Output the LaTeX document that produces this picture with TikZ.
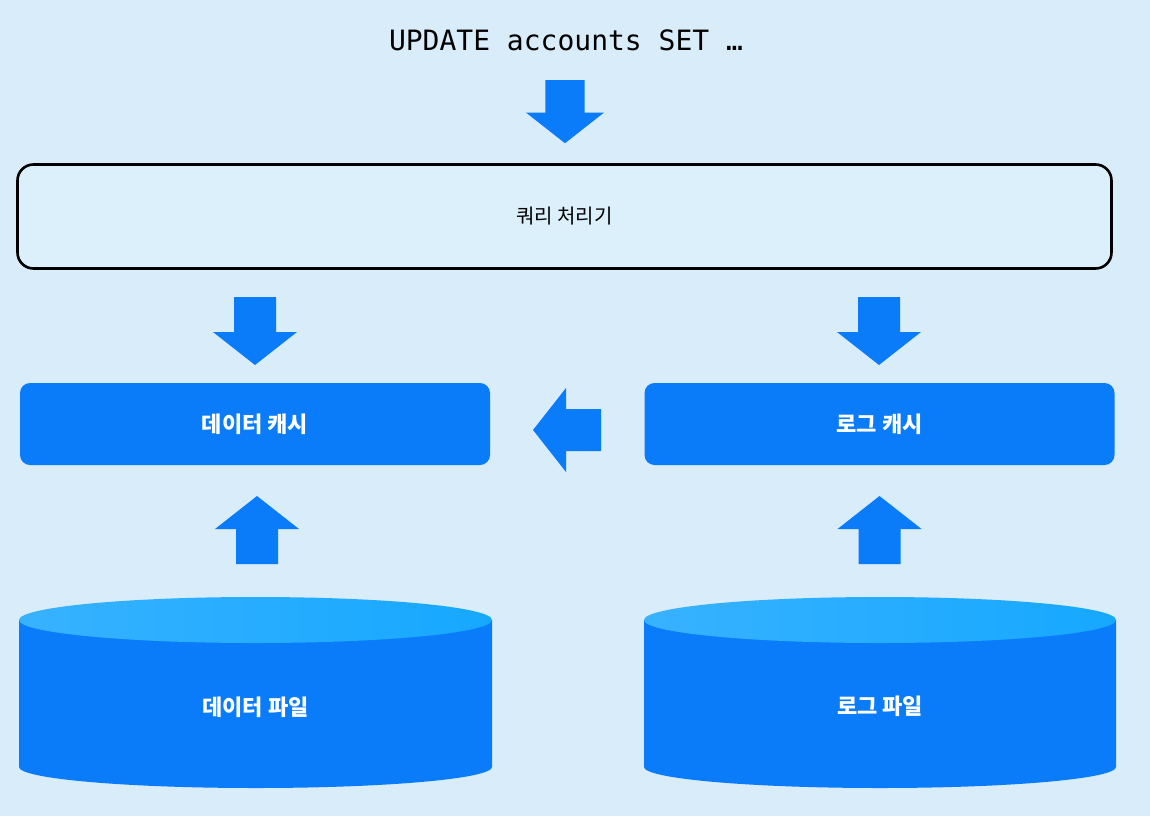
\documentclass[tikz,border=0pt]{standalone}
\usepackage{fontspec}
\newfontfamily\kr{Noto Sans CJK KR}
\newfontfamily\mono{DejaVu Sans Mono}
\definecolor{fond}{RGB}{216,236,250}
\definecolor{bleu}{RGB}{10,124,250}
\definecolor{bleuclair}{RGB}{55,178,255}
\definecolor{bleuvif}{RGB}{22,168,255}
\definecolor{boitefond}{RGB}{220,240,252}

\begin{document}
\begin{tikzpicture}[x=1pt, y=-1pt]
\tikzset{processeur/.style={draw, line width=2.6pt, fill=boitefond, rounded corners=16pt, minimum width=1094pt, minimum height=104pt, inner sep=0pt, font=\kr\fontsize{20}{24}\selectfont}}
\tikzset{cache/.style={fill=bleu, rounded corners=10pt, minimum width=470pt, minimum height=82pt, inner sep=0pt, text=white, font=\kr\bfseries\fontsize{22}{26}\selectfont}}
\tikzset{fichier/.style={text=white, font=\kr\bfseries\fontsize{22}{26}\selectfont}}
\tikzset{fleche/.pic={\fill[bleu] (-21,0) -- (21,0) -- (21,35) -- (42,35) -- (0,68) -- (-42,35) -- (-21,35) -- cycle;}}
\fill[fond] (0,0) rectangle (1150,816);
% cylindres
\fill[bleu] (19,620) -- (19,767) arc[start angle=180, end angle=360, x radius=236.5pt, y radius=21pt] -- (492,620) -- cycle;
\shade[left color=bleuclair, right color=bleuvif] (255.5,620) ellipse[x radius=236.5pt, y radius=23pt];
\fill[bleu] (644,620) -- (644,767) arc[start angle=180, end angle=360, x radius=236pt, y radius=21pt] -- (1116,620) -- cycle;
\shade[left color=bleuclair, right color=bleuvif] (880,620) ellipse[x radius=236pt, y radius=23pt];
\node[font=\mono\fontsize{28}{32}\selectfont] (requete) at (566,40) {UPDATE accounts SET …};
\node[processeur] (traitement) at (564.5,216.5) {쿼리 처리기};
\node[cache] (cachedonnees) at (255,424) {데이터 캐시};
\node[cache] (cachelog) at (879.5,424) {로그 캐시};
\node[fichier] (fichierdonnees) at (255.5,707) {데이터 파일};
\node[fichier] (fichierlog) at (880,706) {로그 파일};
\pic[scale=.93] at (565,80) {fleche};
\pic at (255,297) {fleche};
\pic at (879,297) {fleche};
\pic[rotate=-90] at (601,430) {fleche};
\pic[rotate=180] at (257,564) {fleche};
\pic[rotate=180] at (879.5,564) {fleche};
\end{tikzpicture}
\end{document}
